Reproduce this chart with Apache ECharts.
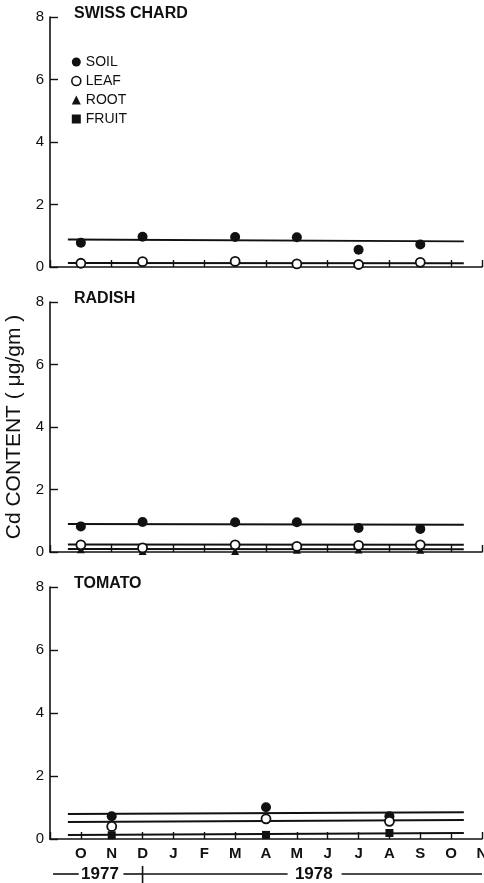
<!DOCTYPE html>
<html><head><meta charset="utf-8">
<script src="https://cdn.jsdelivr.net/npm/echarts@6/dist/echarts.min.js"></script>
<style>html,body{margin:0;padding:0;background:#fff}#c{width:484px;height:883px}</style>
</head><body><div id="c"></div>
<script>
// ---- data ----
const monthLabels = ['O','N','D','J','F','M','A','M','J','J','A','S','O','N']; // x index 0..13 (Oct 1977 .. Nov 1978)
const panelTitles = ['SWISS CHARD','RADISH','TOMATO'];
const yTicks = [0,2,4,6,8];

const chardMonths = [0,2,5,7,9,11];
const chardSoil   = [0.78,0.97,0.96,0.95,0.55,0.72];
const chardLeaf   = [0.12,0.17,0.18,0.10,0.08,0.15];

const radishMonths = [0,2,5,7,9,11];
const radishSoil   = [0.82,0.96,0.95,0.95,0.77,0.74];
const radishLeaf   = [0.23,0.13,0.23,0.18,0.21,0.23];
const radishRoot   = [0.09,0.03,0.03,0.07,0.08,0.07];

const tomatoMonths = [1,6,10];
const tomatoSoil   = [0.72,1.01,0.72];
const tomatoLeaf   = [0.40,0.64,0.56];
const tomatoFruit  = [0.12,0.13,0.19];

// fitted (mean) lines: value at start and end of span
const fitSpan       = [-0.42,12.41];
const chardSoilFit  = [0.88,0.82];
const chardLeafFit  = [0.13,0.12];
const radishSoilFit = [0.90,0.87];
const radishLeafFit = [0.24,0.23];
const radishRootFit = [0.10,0.09];
const tomatoSoilFit = [0.79,0.85];
const tomatoLeafFit = [0.54,0.60];
const tomatoFruitFit= [0.13,0.19];

// year annotation (x in month index units)
const yearLabels = [{text:'1977', x:0.62},{text:'1978', x:7.55}];
const yearSegments = [[-0.9,-0.07],[1.38,2.0],[2.0,6.7],[8.45,13.0]];
const yearDivider = 2.0;

// ---- chart ----
const FONT = 'Liberation Sans, Arial, sans-serif';
const tops = [17, 302, 587];
const heights = [250, 250, 252];

function pairs(xs, ys){ return xs.map((x,i)=>[x, ys[i]]); }
function fitData(f){ return [[fitSpan[0], f[0]],[fitSpan[1], f[1]]]; }

const grids = tops.map((t,i)=>({left:50, width:432, top:t, height:heights[i], outerBoundsMode:'none', containLabel:false}));
const xAxes = grids.map((g,i)=>({
  type:'value', gridIndex:i, min:-1, max:13, interval:1,
  axisLine:{show:true, onZero:false, lineStyle:{color:'#111', width:1.6}},
  axisTick:{show:true, inside:true, length:7, lineStyle:{color:'#111', width:1.4}},
  splitLine:{show:false},
  axisLabel:{show:i===2, margin:7, color:'#111', fontFamily:FONT, fontSize:15, fontWeight:'bold',
    formatter:v=> (v>=0 && v<monthLabels.length) ? monthLabels[v] : ''}
}));
const yAxes = grids.map((g,i)=>({
  type:'value', gridIndex:i, min:0, max:8, interval:2,
  axisLine:{show:true, onZero:false, lineStyle:{color:'#111', width:1.6}},
  axisTick:{show:true, inside:true, length:8, lineStyle:{color:'#111', width:1.4}},
  splitLine:{show:false},
  axisLabel:{margin:6, color:'#111', fontFamily:FONT, fontSize:15,
    formatter:v=> yTicks.indexOf(v)>=0 ? String(v) : ''},
  name: i===1 ? 'Cd CONTENT ( \u03bcg/gm )' : '',
  nameLocation:'middle', nameGap:12, nameRotate:90,
  nameTextStyle:{color:'#111', fontFamily:FONT, fontSize:21}
}));

const fitLine = (i, f)=>({type:'line', name:'fit', xAxisIndex:i, yAxisIndex:i, data:fitData(f),
  symbol:'none', lineStyle:{color:'#111', width:2}, z:2, silent:true});
const soilS = (i, xs, ys)=>({type:'scatter', name:'SOIL', xAxisIndex:i, yAxisIndex:i, data:pairs(xs,ys),
  symbol:'circle', symbolSize:10, itemStyle:{color:'#111', opacity:1}, z:5});
const leafS = (i, xs, ys)=>({type:'scatter', name:'LEAF', xAxisIndex:i, yAxisIndex:i, data:pairs(xs,ys),
  symbol:'circle', symbolSize:9, itemStyle:{color:'#fff', borderColor:'#111', borderWidth:1.8, opacity:1}, z:6});
const rootS = (i, xs, ys)=>({type:'scatter', name:'ROOT', xAxisIndex:i, yAxisIndex:i, data:pairs(xs,ys),
  symbol:'triangle', symbolSize:8, itemStyle:{color:'#111', opacity:1}, z:4});
const fruitS = (i, xs, ys)=>({type:'scatter', name:'FRUIT', xAxisIndex:i, yAxisIndex:i, data:pairs(xs,ys),
  symbol:'rect', symbolSize:8, itemStyle:{color:'#111', opacity:1}, z:4});

const series = [
  fitLine(0, chardSoilFit), fitLine(0, chardLeafFit),
  soilS(0, chardMonths, chardSoil), leafS(0, chardMonths, chardLeaf),
  fitLine(1, radishSoilFit), fitLine(1, radishLeafFit), fitLine(1, radishRootFit),
  soilS(1, radishMonths, radishSoil), rootS(1, radishMonths, radishRoot), leafS(1, radishMonths, radishLeaf),
  fitLine(2, tomatoSoilFit), fitLine(2, tomatoLeafFit), fitLine(2, tomatoFruitFit),
  soilS(2, tomatoMonths, tomatoSoil), fruitS(2, tomatoMonths, tomatoFruit), leafS(2, tomatoMonths, tomatoLeaf)
];

const chart = echarts.init(document.getElementById('c'), null, {renderer:'canvas'});
chart.setOption({
  animation:false,
  backgroundColor:'#fff',
  title: panelTitles.map((t,i)=>({text:t, left:74, top:tops[i]-11, padding:0,
    textStyle:{color:'#111', fontFamily:FONT, fontSize:16, fontWeight:'bold'}})),
  legend:{
    orient:'vertical', left:71, top:55, padding:0, itemWidth:9, itemHeight:9, itemGap:5,
    selectedMode:false,
    textStyle:{color:'#111', fontFamily:FONT, fontSize:14},
    data:[
      {name:'SOIL', icon:'circle', itemStyle:{color:'#111'}},
      {name:'LEAF', icon:'circle', itemStyle:{color:'#fff', borderColor:'#111', borderWidth:1.6}},
      {name:'ROOT', icon:'triangle', itemStyle:{color:'#111'}},
      {name:'FRUIT', icon:'rect', itemStyle:{color:'#111'}}
    ]
  },
  grid: grids, xAxis: xAxes, yAxis: yAxes, series: series
});

// year annotation under the bottom axis, positioned through the bottom x scale
const px = v => chart.convertToPixel({xAxisIndex:2}, v);
const yearY = 874;
const gfx = [];
yearSegments.forEach(s=>gfx.push({type:'line', shape:{x1:px(s[0]), y1:yearY, x2:px(s[1]), y2:yearY},
  style:{stroke:'#111', lineWidth:1.6}}));
gfx.push({type:'line', shape:{x1:px(yearDivider), y1:yearY-8, x2:px(yearDivider), y2:883},
  style:{stroke:'#111', lineWidth:1.6}});
yearLabels.forEach(l=>gfx.push({type:'text', x:px(l.x), y:yearY, style:{text:l.text, fill:'#111',
  font:'bold 17px ' + FONT, textAlign:'center', textVerticalAlign:'middle'}}));
chart.setOption({graphic:gfx});
</script></body></html>
